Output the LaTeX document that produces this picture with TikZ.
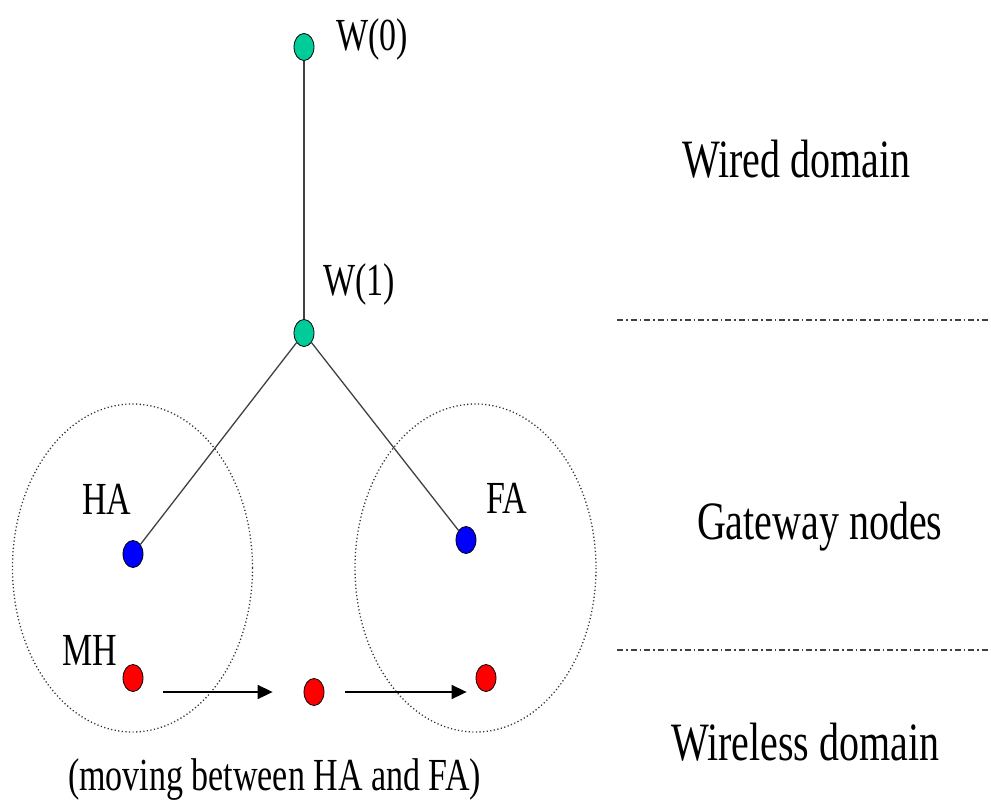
\documentclass[tikz,border=0pt]{standalone}
\usepackage{fontspec}
\setmainfont{Liberation Serif}
\usepackage{tikz}
\usetikzlibrary{positioning, arrows.meta, calc, shapes.geometric}
\newcommand{\smalltxt}[1]{\scalebox{1}[1.35]{\fontsize{34}{40}\selectfont #1}}
\newcommand{\bigtxt}[1]{\scalebox{1}[1.35]{\fontsize{40}{46}\selectfont #1}}
\definecolor{wiredgreen}{RGB}{0,204,153}

\begin{document}
\begin{tikzpicture}[x=1pt,y=-1pt]
		\tikzstyle{dot} = [shape=ellipse, minimum width=20, minimum height=27, inner sep=0, draw=black, line width=0.8]
		\tikzstyle{wired} = [dot, fill=wiredgreen]
		\tikzstyle{gate} = [dot, fill=blue]
		\tikzstyle{mobile} = [dot, fill=red]
		\tikzstyle{link} = [draw=black!75, line width=1.3]
		\tikzstyle{move} = [-{Triangle[length=15,width=14]}, line width=1.6, black]
		\tikzstyle{zone} = [draw=black!80, line width=1.3, dash pattern=on 1.2 off 2.4]
		\tikzstyle{border} = [draw=black!75, line width=1.1, dash pattern=on 6 off 3 on 1.5 off 3]
		\tikzstyle{lbl} = [anchor=base west, inner sep=0, outer sep=0]
		\useasboundingbox (0,0) rectangle (991,806);
		\draw [zone] (132.5,568) ellipse [x radius=120, y radius=164];
		\draw [zone] (475.5,568) ellipse [x radius=120.5, y radius=164];
		\node [wired] (v_w0) at (304,47) {};
		\node [wired] (v_w1) at (304,333) {};
		\node [gate] (v_ha) at (133,554) {};
		\node [gate] (v_fa) at (466,540) {};
		\node [mobile] (v_mh) at (133,678) {};
		\node [mobile] (v_mid) at (314,692) {};
		\node [mobile] (v_dest) at (486,678) {};
		\draw [link] (v_w0) -- (v_w1);
		\draw [link] (v_w1) -- (v_ha);
		\draw [link] (v_w1) -- (v_fa);
		\draw [move, shorten <=20, shorten >=31] (v_mh.east |- v_mid) -- (v_mid.west);
		\draw [move, shorten <=21, shorten >=9] (v_mid.east) -- (v_dest.west |- v_mid);
		\node [lbl] (t_w0) at (336,50) {\smalltxt{W(0)}};
		\node [lbl] (t_w1) at (323,295) {\smalltxt{W(1)}};
		\node [lbl] (t_ha) at (82,514) {\smalltxt{HA}};
		\node [lbl] (t_fa) at (486,513) {\smalltxt{FA}};
		\node [lbl] (t_mh) at (62,665) {\smalltxt{MH}};
		\node [lbl] (t_moving) at (68,790) {\smalltxt{(moving between HA and FA)}};
		\node [lbl] (t_wired) at (682,177) {\bigtxt{Wired domain}};
		\node [lbl] (t_gate) at (697,539) {\bigtxt{Gateway nodes}};
		\node [lbl] (t_wireless) at (671,760) {\bigtxt{Wireless domain}};
		\coordinate (c_top_l) at (617,320);
		\coordinate (c_top_r) at (991,320);
		\coordinate (c_low_l) at (617,650);
		\coordinate (c_low_r) at (991,650);
		\draw [border] (c_top_l) -- (c_top_r);
		\draw [border] (c_low_l) -- (c_low_r);
\end{tikzpicture}
\end{document}
